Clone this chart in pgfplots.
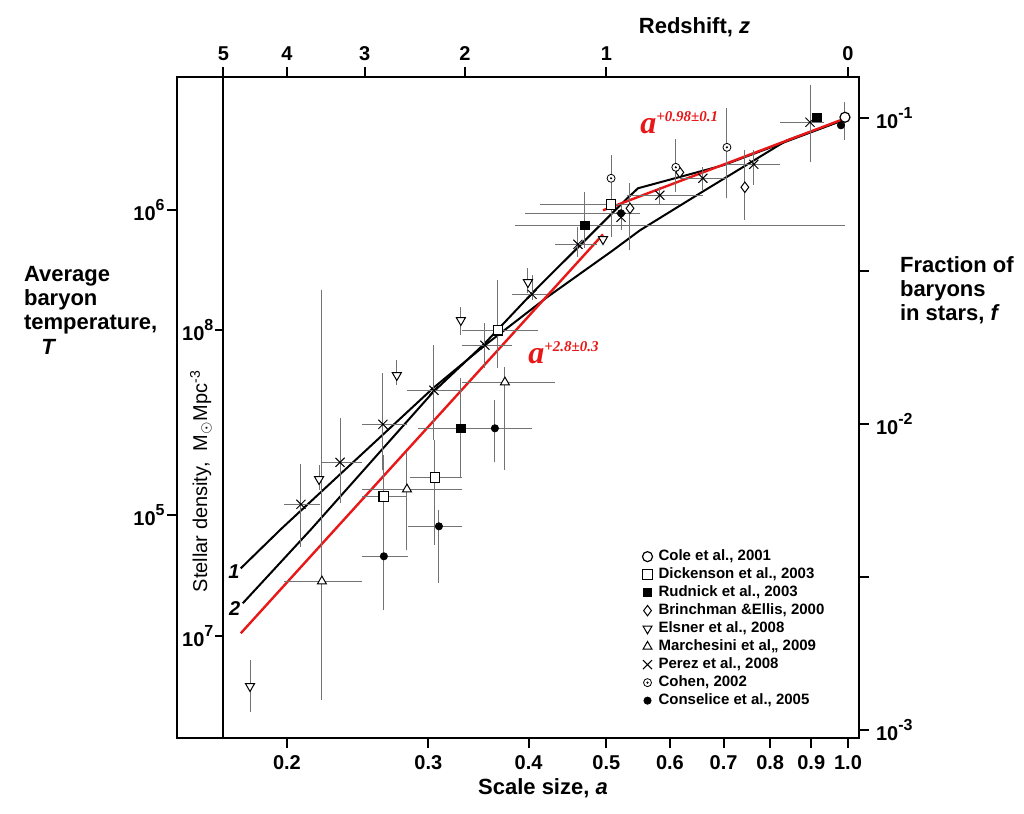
\documentclass[border=0pt]{standalone}
\usepackage{fontspec}
\setmainfont{Liberation Sans}
\newfontfamily\tnr{Liberation Serif}
\usepackage{pgfplots}
\usepackage{pgfplotstable}
\pgfplotsset{compat=1.18}

\pgfdeclareplotmark{odot}{%
  \pgfpathcircle{\pgfpointorigin}{\pgfplotmarksize}%
  \pgfusepathqfillstroke
  \begin{pgfscope}%
  \pgfsetfillcolor{black}%
  \pgfpathcircle{\pgfpointorigin}{0.3\pgfplotmarksize}%
  \pgfusepathqfill
  \end{pgfscope}}

\newcommand\tp[1]{10\raisebox{0.5em}{\fontsize{8}{8}\selectfont\bfseries #1}}
\definecolor{myred}{RGB}{232,24,24}

% columns: a, rho, a low, a high, rho low, rho high
\pgfplotstableread{
a rho alo ahi rlo rhi
0.9914 4.968e8 0.9914 0.9914 4.177e8 5.561e8
}\cole
\pgfplotstableread{
a rho alo ahi rlo rhi
0.2641 2.867e7 0.2480 0.2822 1.216e7 3.904e7
0.3058 3.308e7 0.2846 0.3304 1.983e7 4.370e7
0.3664 1.000e8 0.3304 0.4110 7.513e7 1.457e8
0.5068 2.580e8 0.4133 0.6173 2.013e8 2.868e8
}\dick
\pgfplotstableread{
a rho alo ahi rlo rhi
0.3294 4.783e7 0.2912 0.3632 3.308e7 6.968e7
0.4701 2.203e8 0.3847 0.9914 1.854e8 2.825e8
0.9149 4.968e8 0.9149 0.9149 4.968e8 4.968e8
}\rudn
\pgfplotstableread{
a rho alo ahi rlo rhi
0.5351 2.504e8 0.5351 0.5351 1.826e8 3.023e8
0.6173 3.283e8 0.6173 0.6173 3.283e8 3.283e8
0.7440 2.934e8 0.7440 0.7440 2.288e8 3.875e8
}\brin
\pgfplotstableread{
a rho alo ahi rlo rhi
0.1799 6.865e6 0.1799 0.1799 5.644e6 8.348e6
0.2193 3.259e7 0.2193 0.2193 3.000e7 3.621e7
0.2741 7.128e7 0.2741 0.2741 6.611e7 7.980e7
0.3294 1.078e8 0.3294 0.3294 9.631e7 1.189e8
0.3993 1.435e8 0.3993 0.3993 1.321e8 1.594e8
0.4952 1.983e8 0.4952 0.4952 1.983e8 1.983e8
}\elsn
\pgfplotstableread{
a rho alo ahi rlo rhi
0.2211 1.512e7 0.1982 0.2480 6.178e6 1.351e8
0.2822 3.023e7 0.2480 0.3304 1.910e7 3.993e7
0.3738 6.761e7 0.3304 0.4314 3.487e7 7.570e7
}\marc
\pgfplotstableread{
a rho alo ahi rlo rhi
0.2082 2.700e7 0.1982 0.2199 1.954e7 3.648e7
0.2329 3.703e7 0.2205 0.2480 2.720e7 5.157e7
0.2634 4.930e7 0.2480 0.2822 3.487e7 7.236e7
0.3049 6.366e7 0.2822 0.3304 4.370e7 8.935e7
0.3529 8.935e7 0.3304 0.3814 7.513e7 1.054e8
0.4040 1.311e8 0.3814 0.4217 1.253e8 1.512e8
0.4608 1.910e8 0.4314 0.4866 1.732e8 2.171e8
0.5215 2.341e8 0.5215 0.5215 2.122e8 2.561e8
0.5830 2.762e8 0.5305 0.6596 2.561e8 2.934e8
0.6596 3.139e8 0.6173 0.7067 2.868e8 3.410e8
0.7635 3.487e8 0.7067 0.8228 2.978e8 3.875e8
0.8968 4.785e8 0.8228 0.9335 3.540e8 6.320e8
}\pere
\pgfplotstableread{
a rho alo ahi rlo rhi
0.5068 3.139e8 0.5068 0.5068 2.659e8 3.731e8
0.6103 3.410e8 0.6103 0.6103 2.825e8 4.209e8
0.7067 3.963e8 0.7067 0.7067 2.700e8 5.316e8
}\cohe
\pgfplotstableread{
a rho alo ahi rlo rhi
0.2641 1.826e7 0.2480 0.2830 1.216e7 2.782e7
0.3093 2.288e7 0.2830 0.3304 1.490e7 2.580e7
0.3632 4.783e7 0.3294 0.4040 3.703e7 5.904e7
0.5215 2.412e8 0.3960 0.5506 2.122e8 2.412e8
0.9801 4.677e8 0.9801 0.9801 4.677e8 4.677e8
}\cons

\pgfplotsset{
  pts/.style={only marks, black,
    error bars/x dir=both, error bars/x explicit,
    error bars/y dir=both, error bars/y explicit,
    error bars/error mark=none,
    error bars/error bar style={line width=0.5pt, draw=black!55}},
}

\begin{document}
\begin{tikzpicture}
\path[use as bounding box] (0,0) rectangle (512pt,407pt);
\begin{axis}[
  at={(88.5pt,37.85pt)}, anchor=south west,
  scale only axis, width=341pt, height=330.5pt,
  xmode=log, ymode=log,
  xmin=0.1459, xmax=1.0321, ymin=4.642e6, ymax=6.713e8,
  axis line style={line width=1pt},
  tick align=outside, major tick length=5pt,
  tick style={line width=1pt, black},
  xtick pos=left, ytick pos=left,
  xtick={0.2,0.3,0.4,0.5,0.6,0.7,0.8,0.9,1.0},
  xticklabels={0.2,0.3,0.4,0.5,0.6,0.7,0.8,0.9,1.0},
  ytick={2.467e8,2.485e7},
  yticklabels={\tp{6},\tp{5}},
  ticklabel style={font=\bfseries\fontsize{10}{12}\selectfont},
  yticklabel style={inner sep=1pt},
  minor tick num=0,
  clip=false,
  legend cell align=left,
  legend style={at={(0.682,0.289)}, anchor=north west, draw=none, fill=none,
    inner sep=0pt, row sep=0pt, column sep=2pt,
    font=\bfseries\fontsize{7.5}{9}\selectfont,
    nodes={inner sep=1pt, text height=5.6pt, text depth=1.4pt}},
  legend image code/.code={\draw[#1] plot coordinates {(0pt,0pt)};},
]
% model curves
\addplot[black, line width=1pt, forget plot] coordinates {
(0.1752,1.668e7) (0.1971,2.254e7) (0.3040,6.463e7) (0.3529,8.935e7)
(0.4217,1.282e8) (0.5096,1.826e8) (0.5506,2.122e8) (0.6539,2.803e8)
(0.8393,4.177e8) (0.9857,4.858e8)};
\addplot[black, line width=1pt, forget plot] coordinates {
(0.1762,1.282e7) (0.2149,2.254e7) (0.3040,6.271e7) (0.3529,9.070e7)
(0.4051,1.331e8) (0.5276,2.659e8) (0.5475,2.912e8) (0.5830,3.045e8)
(0.6987,3.461e8) (0.9857,4.858e8)};
\addplot[myred, line width=1.2pt, forget plot] coordinates {(0.1752,1.023e7) (0.4952,2.059e8)};
\addplot[myred, line width=1.2pt, forget plot] coordinates {(0.4952,2.467e8) (0.9857,4.894e8)};

\addplot[pts, mark=*, mark size=2.5pt, mark options={fill=white, draw=black, line width=0.6pt}]
 table[x=a,y=rho,x error minus expr=\thisrow{a}-\thisrow{alo},x error plus expr=\thisrow{ahi}-\thisrow{a},y error minus expr=\thisrow{rho}-\thisrow{rlo},y error plus expr=\thisrow{rhi}-\thisrow{rho}]{\cole};
\addlegendentry{Cole  et al., 2001}
\addplot[pts, mark=square*, mark size=2.4pt, mark options={fill=white, draw=black, line width=0.6pt}]
 table[x=a,y=rho,x error minus expr=\thisrow{a}-\thisrow{alo},x error plus expr=\thisrow{ahi}-\thisrow{a},y error minus expr=\thisrow{rho}-\thisrow{rlo},y error plus expr=\thisrow{rhi}-\thisrow{rho}]{\dick};
\addlegendentry{Dickenson et al., 2003}
\addplot[pts, mark=square*, mark size=2.1pt, mark options={fill=black, draw=black}]
 table[x=a,y=rho,x error minus expr=\thisrow{a}-\thisrow{alo},x error plus expr=\thisrow{ahi}-\thisrow{a},y error minus expr=\thisrow{rho}-\thisrow{rlo},y error plus expr=\thisrow{rhi}-\thisrow{rho}]{\rudn};
\addlegendentry{Rudnick et al., 2003}
\addplot[pts, mark=diamond*, mark size=2.6pt, mark options={fill=white, draw=black, line width=0.5pt}]
 table[x=a,y=rho,x error minus expr=\thisrow{a}-\thisrow{alo},x error plus expr=\thisrow{ahi}-\thisrow{a},y error minus expr=\thisrow{rho}-\thisrow{rlo},y error plus expr=\thisrow{rhi}-\thisrow{rho}]{\brin};
\addlegendentry{Brinchman \&Ellis, 2000}
\addplot[pts, mark=triangle*, mark size=2.6pt, mark options={rotate=180, fill=white, draw=black, line width=0.5pt}]
 table[x=a,y=rho,x error minus expr=\thisrow{a}-\thisrow{alo},x error plus expr=\thisrow{ahi}-\thisrow{a},y error minus expr=\thisrow{rho}-\thisrow{rlo},y error plus expr=\thisrow{rhi}-\thisrow{rho}]{\elsn};
\addlegendentry{Elsner  et al., 2008}
\addplot[pts, mark=triangle*, mark size=2.6pt, mark options={fill=white, draw=black, line width=0.5pt}]
 table[x=a,y=rho,x error minus expr=\thisrow{a}-\thisrow{alo},x error plus expr=\thisrow{ahi}-\thisrow{a},y error minus expr=\thisrow{rho}-\thisrow{rlo},y error plus expr=\thisrow{rhi}-\thisrow{rho}]{\marc};
\addlegendentry{Marchesini  et al,, 2009}
\addplot[pts, mark=x, mark size=3.2pt, mark options={draw=black, line width=0.5pt}]
 table[x=a,y=rho,x error minus expr=\thisrow{a}-\thisrow{alo},x error plus expr=\thisrow{ahi}-\thisrow{a},y error minus expr=\thisrow{rho}-\thisrow{rlo},y error plus expr=\thisrow{rhi}-\thisrow{rho}]{\pere};
\addlegendentry{Perez  et al., 2008}
\addplot[pts, mark=odot, mark size=2pt, mark options={fill=white, draw=black, line width=0.4pt}]
 table[x=a,y=rho,x error minus expr=\thisrow{a}-\thisrow{alo},x error plus expr=\thisrow{ahi}-\thisrow{a},y error minus expr=\thisrow{rho}-\thisrow{rlo},y error plus expr=\thisrow{rhi}-\thisrow{rho}]{\cohe};
\addlegendentry{Cohen, 2002}
\addplot[pts, mark=*, mark size=1.8pt, mark options={fill=black, draw=black}]
 table[x=a,y=rho,x error minus expr=\thisrow{a}-\thisrow{alo},x error plus expr=\thisrow{ahi}-\thisrow{a},y error minus expr=\thisrow{rho}-\thisrow{rlo},y error plus expr=\thisrow{rhi}-\thisrow{rho}]{\cons};
\addlegendentry{Conselice  et al., 2005}

% inner axis (z = 5) with stellar density ticks
\draw[line width=1pt] (axis cs:0.166667,4.642e6) -- (axis cs:0.166667,6.713e8);
\draw[line width=1pt] (axis cs:0.166667,1e8) -- ([xshift=-4pt]axis cs:0.166667,1e8)
   node[anchor=east, inner sep=0.5pt, font=\bfseries\fontsize{10}{12}\selectfont] {\tp{8}};
\draw[line width=1pt] (axis cs:0.166667,1e7) -- ([xshift=-4pt]axis cs:0.166667,1e7)
   node[anchor=east, inner sep=0.5pt, font=\bfseries\fontsize{10}{12}\selectfont] {\tp{7}};
% curve labels
\node[font=\bfseries\itshape\fontsize{10}{12}\selectfont] at (axis cs:0.1718,1.631e7) {1};
\node[font=\bfseries\itshape\fontsize{10}{12}\selectfont] at (axis cs:0.1722,1.234e7) {2};
% power-law annotations
\node[anchor=base west, inner sep=0pt, text=myred, font=\tnr\bfseries\itshape] at (axis cs:0.5506,4.404e8)
  {\fontsize{16}{16}\selectfont a\raisebox{6pt}{\fontsize{7.5}{8}\selectfont +0.98±0.1}};
\node[anchor=base west, inner sep=0pt, text=myred, font=\tnr\bfseries\itshape] at (axis cs:0.3993,7.80e7)
  {\fontsize{16}{16}\selectfont a\raisebox{6pt}{\fontsize{7.5}{8}\selectfont +2.8±0.3}};
\end{axis}

\begin{axis}[
  at={(88.5pt,37.85pt)}, anchor=south west,
  scale only axis, width=341pt, height=330.5pt,
  xmode=log, ymode=log,
  xmin=0.1459, xmax=1.0321, ymin=9.416e-4, ymax=0.13617,
  axis line style={draw=none},
  tick align=outside, major tick length=5pt,
  tick style={line width=1pt, black},
  xtick pos=right, ytick pos=right,
  xticklabel pos=right, yticklabel pos=right,
  xtick={0.166667,0.2,0.25,0.333333,0.5,1},
  xticklabels={5,4,3,2,1,0},
  ytick={0.1,0.01,0.001},
  yticklabels={\tp{-1},\tp{-2},\tp{-3}},
  extra y ticks={0.031623,0.0031623}, extra y tick labels={},
  ticklabel style={font=\bfseries\fontsize{10}{12}\selectfont},
  minor tick num=0,
]
\end{axis}

% outer labels
\node[font=\bfseries\fontsize{11}{13}\selectfont] at (347.25pt,393.5pt) {Redshift, \textit{z}};
\node[font=\bfseries\fontsize{11}{13}\selectfont] at (271.5pt,13pt) {Scale size, \textit{a}};
\node[anchor=base west, font=\bfseries\fontsize{11}{13}\selectfont] at (8.5pt,266pt) {Average};
\node[anchor=base west, font=\bfseries\fontsize{11}{13}\selectfont] at (8.5pt,254pt) {baryon};
\node[anchor=base west, font=\bfseries\fontsize{11}{13}\selectfont] at (8.5pt,242pt) {temperature,};
\node[anchor=base, font=\bfseries\itshape\fontsize{11}{13}\selectfont] at (24pt,229.5pt) {T};
\node[anchor=base west, font=\bfseries\fontsize{11}{13}\selectfont] at (446.5pt,270.5pt) {Fraction of};
\node[anchor=base west, font=\bfseries\fontsize{11}{13}\selectfont] at (446.5pt,258.5pt) {baryons};
\node[anchor=base west, font=\bfseries\fontsize{11}{13}\selectfont] at (446.5pt,246.5pt) {in stars, \textit{f}};
\node[rotate=90, font=\fontsize{10}{12}\selectfont] at (100.5pt,166.5pt) {Stellar density,\ \ M$_\odot$Mpc\textsuperscript{-3}};
\end{tikzpicture}
\end{document}
